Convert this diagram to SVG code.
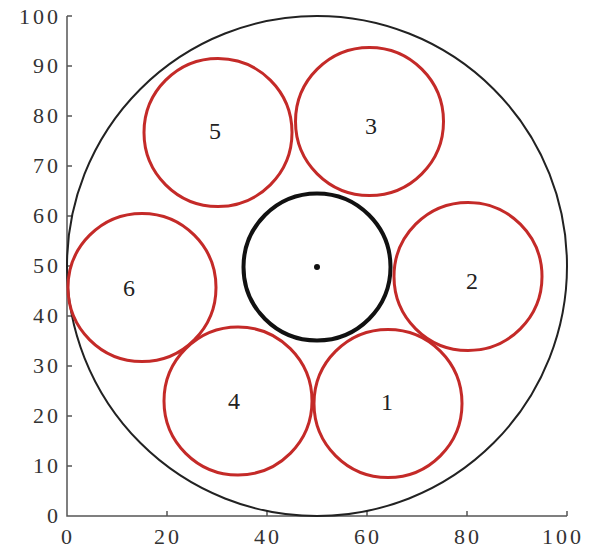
<svg xmlns="http://www.w3.org/2000/svg" width="592" height="549" viewBox="0 0 592 549">
<style>
.ax{stroke:#555;stroke-width:1.5;fill:none}
.tl{font-family:"Liberation Serif",serif;font-size:22px;letter-spacing:3px;fill:#333}
.yl{text-anchor:end;dominant-baseline:central}
.xl{text-anchor:middle}
.red{fill:none;stroke:#c42a28;stroke-width:3}
.lab{font-family:"Liberation Serif",serif;font-size:24px;fill:#222;text-anchor:middle}
</style>
<rect width="592" height="549" fill="#fff"/>
<g id="axes">
<path class="ax" d="M67,16V516H567"/>
<path class="ax" d="M67,16h5M67,66h5M67,116h5M67,166h5M67,216h5M67,266h5M67,316h5M67,366h5M67,416h5M67,466h5M167,516v-5M267,516v-5M367,516v-5M467,516v-5M567,516v-5"/>
<text class="tl yl" x="61" y="16">100</text>
<text class="tl yl" x="61" y="65">90</text>
<text class="tl yl" x="61" y="115">80</text>
<text class="tl yl" x="61" y="165">70</text>
<text class="tl yl" x="61" y="215">60</text>
<text class="tl yl" x="61" y="265">50</text>
<text class="tl yl" x="61" y="315">40</text>
<text class="tl yl" x="61" y="365">30</text>
<text class="tl yl" x="61" y="415">20</text>
<text class="tl yl" x="61" y="465">10</text>
<text class="tl yl" x="61" y="515">0</text>
<text class="tl xl" x="68" y="544">0</text>
<text class="tl xl" x="168" y="544">20</text>
<text class="tl xl" x="268" y="544">40</text>
<text class="tl xl" x="368" y="544">60</text>
<text class="tl xl" x="468" y="544">80</text>
<text class="tl xl" x="563" y="544">100</text>
</g>
<g id="outer"><circle cx="317" cy="266" r="250" fill="none" stroke="#222" stroke-width="2"/></g>
<g id="center"><circle cx="317" cy="267" r="73.5" fill="none" stroke="#111" stroke-width="4"/><circle cx="317" cy="267" r="3" fill="#111"/></g>
<g id="c1"><circle class="red" cx="388" cy="403.5" r="74"/><text class="lab" x="387" y="410">1</text></g>
<g id="c2"><circle class="red" cx="468" cy="276.5" r="74"/><text class="lab" x="472" y="289">2</text></g>
<g id="c3"><circle class="red" cx="369.5" cy="121.5" r="74"/><text class="lab" x="371" y="134">3</text></g>
<g id="c4"><circle class="red" cx="238" cy="401" r="74"/><text class="lab" x="234" y="409">4</text></g>
<g id="c5"><circle class="red" cx="218" cy="132.5" r="74"/><text class="lab" x="215" y="139">5</text></g>
<g id="c6"><circle class="red" cx="142" cy="287.5" r="74"/><text class="lab" x="129" y="296">6</text></g>
</svg>
